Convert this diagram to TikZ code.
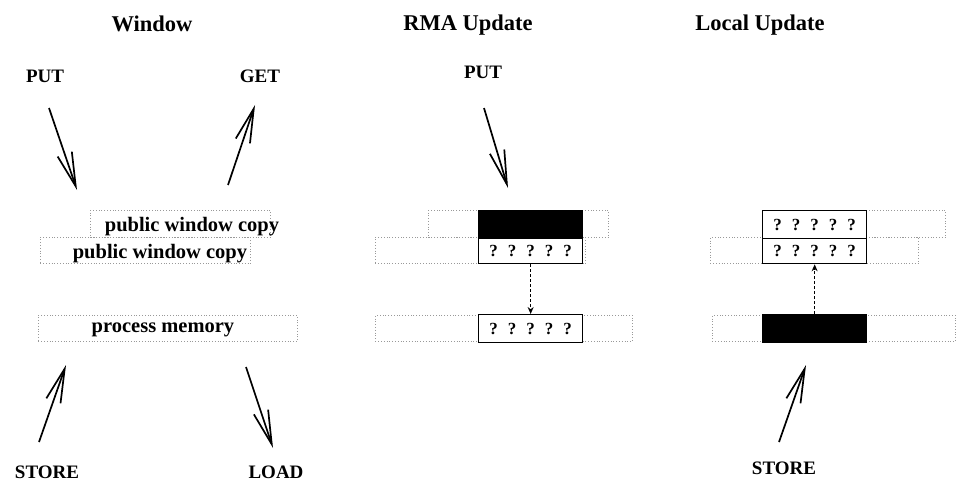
\documentclass[tikz,border=0pt]{standalone}
\usepackage{fontspec}
\setmainfont{Liberation Serif}
\usetikzlibrary{arrows.meta}
\newcommand{\qrow}{?\hspace{10pt}?\hspace{10pt}?\hspace{10pt}?\hspace{10pt}?}

\begin{document}
\begin{tikzpicture}[
    x=1pt, y=-1pt,
    title/.style={font=\fontsize{22.5}{26}\selectfont\bfseries},
    op/.style={font=\fontsize{19}{22}\selectfont\bfseries},
    tag/.style={font=\fontsize{20.5}{24}\selectfont\bfseries},
    pane/.style={draw=black!40, dotted, line width=0.8pt, inner sep=0pt, anchor=north west},
    cell/.style={draw, line width=1.3pt, fill=white, inner sep=0pt, anchor=north west,
      minimum width=104pt, font=\fontsize{17}{20}\selectfont\bfseries},
    filled/.style={cell, fill=black},
    arr/.style={line width=1.7pt, -{Straight Barb[length=34pt,width=15pt]}},
    link/.style={densely dashed, line width=1.5pt, -{Stealth[length=7pt,width=6pt]}},
  ]
  \useasboundingbox (0,0) rectangle (957,484);

  % titles
  \node[title] (tWin) at (152,24) {Window};
  \node[title] (tRma) at (468,25) {RMA Update};
  \node[title] (tLoc) at (760,25) {Local Update};

  % window: the three copies
  \node[pane, minimum width=180pt, minimum height=27pt] (winA) at (90,210) {};
  \node[pane, minimum width=210pt, minimum height=26pt] (winB) at (40,237) {};
  \node[pane, minimum width=259pt, minimum height=26pt] (winM) at (38,315) {};
  \node[tag] (winAt) at (192,227) {public window copy};
  \node[tag] (winBt) at (160,254) {public window copy};
  \node[tag] (winMt) at (163,330) {process memory};

  \node[op] (putW) at (45,76) {PUT};
  \node[op] (getW) at (260,76) {GET};
  \node[op] (storeW) at (47,472) {STORE};
  \node[op] (loadW) at (276,472) {LOAD};
  \coordinate (putWs) at (49,108);  \coordinate (putWe) at (77,190);
  \coordinate (getWs) at (228,185); \coordinate (getWe) at (255,105);
  \coordinate (stWs) at (39,442);   \coordinate (stWe) at (66,365);
  \coordinate (ldWs) at (246,367);  \coordinate (ldWe) at (273,448);
  \draw[arr] (putWs) -- (putWe);
  \draw[arr] (getWs) -- (getWe);
  \draw[arr] (stWs) -- (stWe);
  \draw[arr] (ldWs) -- (ldWe);

  % rma update
  \node[pane, minimum width=180pt, minimum height=27pt] (rmaA) at (428,210) {};
  \node[pane, minimum width=210pt, minimum height=26pt] (rmaB) at (375,237) {};
  \node[pane, minimum width=257pt, minimum height=26pt] (rmaM) at (375,315) {};
  \node[filled, minimum height=28pt] (rmaNew) at (478,210) {};
  \node[cell, minimum height=25pt] (rmaOld) at (478,238) {\qrow};
  \node[cell, minimum height=28pt] (rmaMem) at (478,314) {\qrow};
  \draw[link] (rmaOld.south) -- (rmaMem.north);

  \node[op] (putR) at (483,72) {PUT};
  \coordinate (putRs) at (484,108); \coordinate (putRe) at (508,188);
  \draw[arr] (putRs) -- (putRe);

  % local update
  \node[pane, minimum width=180pt, minimum height=27pt] (locA) at (765,210) {};
  \node[pane, minimum width=208pt, minimum height=26pt] (locB) at (710,237) {};
  \node[pane, minimum width=243pt, minimum height=26pt] (locM) at (712,315) {};
  \node[cell, minimum height=28pt] (locNew) at (762,210) {\qrow};
  \node[cell, minimum height=25pt] (locOld) at (762,238) {\qrow};
  \node[filled, minimum height=28pt] (locMem) at (762,314) {};
  \draw[link] (locMem.north) -- (locOld.south);

  \node[op] (storeL) at (784,468) {STORE};
  \coordinate (stLs) at (779,442); \coordinate (stLe) at (806,365);
  \draw[arr] (stLs) -- (stLe);
\end{tikzpicture}
\end{document}
